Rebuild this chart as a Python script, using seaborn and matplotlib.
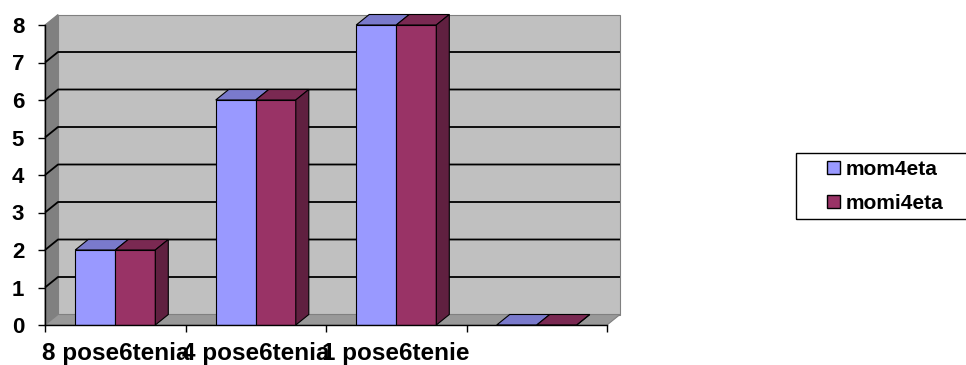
import matplotlib
matplotlib.use("Agg")
import matplotlib.pyplot as plt
from matplotlib.patches import Polygon, Rectangle
import pandas as pd
import seaborn as sns

# Chart data
categories = ["8 pose6tenia", "4 pose6tenia", "1 pose6tenie", " "]
series = ["mom4eta", "momi4eta"]
mom4eta = [2, 6, 8, 0]
momi4eta = [2, 6, 8, 0]

front_colors = ["#9999ff", "#993366"]
top_colors = ["#7a7acc", "#7a2952"]
side_colors = ["#5c5c99", "#602040"]

df = pd.DataFrame({
    "category": categories * 2,
    "series": [series[0]] * len(categories) + [series[1]] * len(categories),
    "value": mom4eta + momi4eta,
})

sns.set_style("ticks")
plt.rcParams["font.family"] = ["Liberation Sans", "DejaVu Sans"]
plt.rcParams["font.weight"] = "bold"
plt.rcParams["text.color"] = "black"
plt.rcParams["xtick.labelcolor"] = "black"
plt.rcParams["ytick.labelcolor"] = "black"

W, H, DPI = 966, 365, 100
fig = plt.figure(figsize=(W / DPI, H / DPI), dpi=DPI)
ax_px = (45, 40, 562, 300)  # left, bottom, width, height in pixels
ax = fig.add_axes([ax_px[0] / W, ax_px[1] / H, ax_px[2] / W, ax_px[3] / H])

sns.barplot(data=df, x="category", y="value", hue="series", order=categories,
            hue_order=series, palette=front_colors, saturation=1, width=0.57,
            edgecolor="black", linewidth=0.8, ax=ax)
ax.get_legend().remove()

x0, x1 = -0.5, len(categories) - 0.5
ymax = 8
ax.set_xlim(x0, x1)
ax.set_ylim(0, ymax)

# depth offset of the 3D box, converted from pixels to data units
DX = 13 * (x1 - x0) / ax_px[2]
DY = 10.5 * ymax / ax_px[3]

wall_kw = dict(clip_on=False, linewidth=0.8, edgecolor="#808080")
ax.add_patch(Rectangle((x0 + DX, DY), x1 - x0, ymax, facecolor="#c0c0c0", zorder=0.5, **wall_kw))
ax.add_patch(Polygon([(x0, 0), (x0 + DX, DY), (x0 + DX, ymax + DY), (x0, ymax)],
                     facecolor="#808080", zorder=0.5, **wall_kw))
ax.add_patch(Polygon([(x0, 0), (x1, 0), (x1 + DX, DY), (x0 + DX, DY)],
                     facecolor="#999999", zorder=0.6, **wall_kw))

# gridlines on the side and back walls
for y in range(1, ymax):
    ax.plot([x0, x0 + DX, x1 + DX], [y, y + DY, y + DY], color="black",
            linewidth=1.3, zorder=0.8, clip_on=False, solid_capstyle="butt")

# top and side faces of each bar
for i, container in enumerate(ax.containers):
    for bar in container:
        bar.set_zorder(2)
        x, w, h = bar.get_x(), bar.get_width(), bar.get_height()
        ax.add_patch(Polygon([(x, h), (x + w, h), (x + w + DX, h + DY), (x + DX, h + DY)],
                             facecolor=top_colors[i], edgecolor="black", linewidth=0.8,
                             zorder=2, clip_on=False))
        if i == len(ax.containers) - 1:
            ax.add_patch(Polygon([(x + w, 0), (x + w + DX, DY), (x + w + DX, h + DY), (x + w, h)],
                                 facecolor=side_colors[i], edgecolor="black", linewidth=0.8,
                                 zorder=2, clip_on=False))

ax.patch.set_visible(False)
for side in ("top", "right"):
    ax.spines[side].set_visible(False)
for side in ("left", "bottom"):
    ax.spines[side].set_color("black")
    ax.spines[side].set_linewidth(1.0)
    ax.spines[side].set_zorder(3)

ax.set_xlabel("")
ax.set_ylabel("")
ax.set_yticks(range(ymax + 1))
ax.set_xticks(range(len(categories)))
ax.set_xticklabels(categories)
ax.set_xticks([x0 + k for k in range(len(categories) + 1)], minor=True)
ax.tick_params(axis="x", which="major", length=0, pad=12, labelsize=17.5, labelcolor="black")
ax.tick_params(axis="x", which="minor", length=5, width=1, color="black", direction="out")
ax.tick_params(axis="y", length=5, width=1, color="black", direction="out", pad=10,
               labelsize=16, labelcolor="black")
for lbl in ax.get_xticklabels() + ax.get_yticklabels():
    lbl.set_fontweight("bold")

# legend
handles = [Rectangle((0, 0), 1, 1, facecolor=c, edgecolor="black", linewidth=1.0)
           for c in front_colors]
fig.legend(handles, series, loc="center left", bbox_to_anchor=(827 / W, 1 - 186.5 / H),
           bbox_transform=fig.transFigure, frameon=False, borderpad=0, borderaxespad=0,
           handlelength=0.6, handleheight=0.6, handletextpad=0.3, labelspacing=0.7,
           prop={"size": 15, "weight": "bold"}, labelcolor="black")
fig.patches.append(Rectangle((796 / W, (H - 219) / H), 200 / W, 66 / H, transform=fig.transFigure,
                             fill=False, edgecolor="black", linewidth=1.0))

fig.savefig("out.png", dpi=DPI)
